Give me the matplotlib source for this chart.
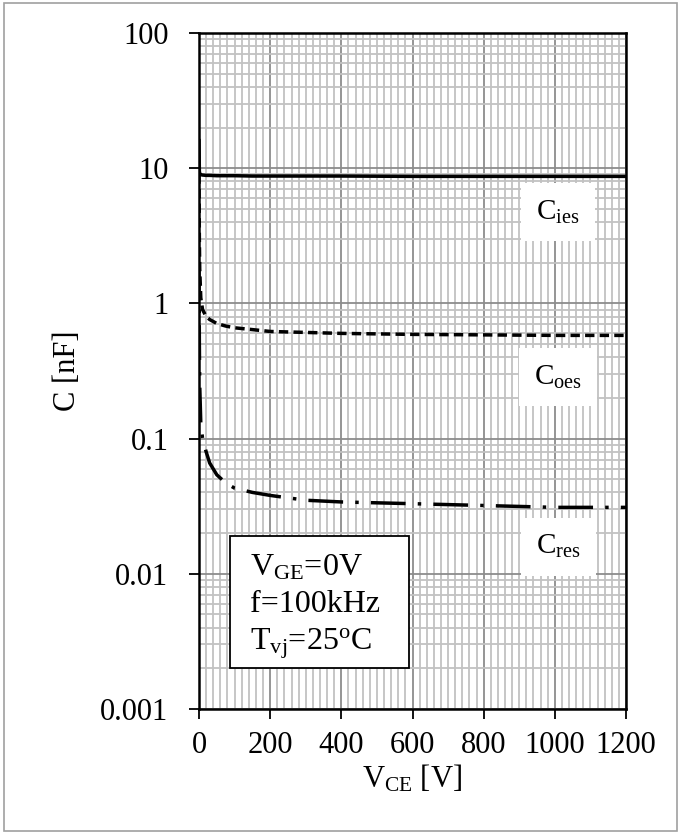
import matplotlib
matplotlib.use("Agg")
import matplotlib.pyplot as plt
from matplotlib.patches import Rectangle
from matplotlib.ticker import FixedLocator, NullFormatter

plt.rcParams['font.family'] = ['Liberation Serif', 'DejaVu Serif']
plt.rcParams['mathtext.fontset'] = 'custom'
plt.rcParams['mathtext.rm'] = 'Liberation Serif'
plt.rcParams['mathtext.it'] = 'Liberation Serif:italic'

# Collector-emitter voltage [V]
v_ce = [0, 1, 2, 5, 10, 20, 30, 50, 75, 100, 150, 200, 300, 400, 600, 800, 1000, 1200]
# Capacitances [nF]
c_ies = [16.0, 9.5, 9.1, 8.95, 8.9, 8.85, 8.85, 8.8, 8.8, 8.8, 8.75, 8.75, 8.75,
         8.75, 8.7, 8.7, 8.7, 8.7]
c_oes = [9.0, 3.0, 1.8, 1.1, 0.9, 0.8, 0.76, 0.71, 0.68, 0.66, 0.64, 0.62, 0.61,
         0.60, 0.59, 0.585, 0.58, 0.58]
c_res = [2.0, 0.5, 0.25, 0.13, 0.1, 0.08, 0.066, 0.054, 0.047, 0.043, 0.040, 0.038,
         0.035, 0.034, 0.033, 0.032, 0.031, 0.031]

x_ticks = [0, 200, 400, 600, 800, 1000, 1200]
y_ticks = [0.001, 0.01, 0.1, 1, 10, 100]
y_labels = ['0.001', '0.01', '0.1', '1', '10', '100']

fig = plt.figure(figsize=(6.81, 8.34), dpi=100)
ax = fig.add_axes([199/681, 1-709/834, 427/681, 676/834])

ax.set_yscale('log')
ax.set_xlim(0, 1200)
ax.set_ylim(0.001, 100)

# grid: light minor lines, darker major lines
minor_x = [v for v in range(0, 1201, 20) if v % 200 != 0]
minor_y = [m * 10.0**e for e in range(-3, 2) for m in range(2, 10)]
ax.xaxis.set_minor_locator(FixedLocator(minor_x))
ax.yaxis.set_minor_locator(FixedLocator(minor_y))
ax.xaxis.set_minor_formatter(NullFormatter())
ax.yaxis.set_minor_formatter(NullFormatter())
ax.grid(which='minor', color='#c2c2c2', linewidth=1.3)
ax.grid(which='major', color='#8c8c8c', linewidth=1.3)
ax.set_axisbelow(True)

ax.set_xticks(x_ticks)
ax.set_xticklabels([str(t) for t in x_ticks])
ax.set_yticks(y_ticks)
ax.set_yticklabels(y_labels)
ax.tick_params(which='major', direction='out', length=7, width=1.3,
               labelsize=22, color='black')
ax.tick_params(axis='x', which='major', pad=9)
ax.tick_params(axis='y', which='major', pad=15)
ax.tick_params(which='minor', length=0)
for s in ax.spines.values():
    s.set_linewidth(1.8)
    s.set_color('black')

ax.plot(v_ce, c_ies, color='black', linewidth=2.5, linestyle='-')
ax.plot(v_ce, c_oes, color='black', linewidth=2.5, linestyle=(0, (2.7, 1.5)))
ax.plot(v_ce, c_res, color='black', linewidth=2.5, linestyle=(0, (10, 3.5, 1, 3.5)))

ax.set_xlabel(r'V$_{\mathrm{CE}}$ [V]', fontsize=22, labelpad=2)
ax.set_ylabel('C [nF]', fontsize=22, labelpad=13)

# curve labels on white patches
for txt, yf in [(r'C$_{\mathrm{ies}}$', 0.735),
                (r'C$_{\mathrm{oes}}$', 0.491),
                (r'C$_{\mathrm{res}}$', 0.240)]:
    ax.text(0.841, yf, txt, transform=ax.transAxes, fontsize=21,
            ha='center', va='center',
            bbox=dict(facecolor='white', edgecolor='none', pad=11))

# conditions box
ax.add_patch(Rectangle((0.0726, 0.0607), 0.492 - 0.0726, 0.256 - 0.0607,
                       transform=ax.transAxes, facecolor='white',
                       edgecolor='black', linewidth=1.3, zorder=3))
for txt, yf in [(r'V$_{\mathrm{GE}}$=0V', 0.198),
                ('f=100kHz', 0.1435),
                (r'T$_{\mathrm{vj}}$=25$^{\mathrm{o}}$C', 0.0873)]:
    ax.text(0.119, yf, txt, transform=ax.transAxes, fontsize=23,
            ha='left', va='baseline', zorder=4)

# outer frame
fig.patches.append(Rectangle((4/681, 3/834), 673/681, 828/834,
                             transform=fig.transFigure, fill=False,
                             edgecolor='#a0a0a0', linewidth=1.2))

fig.savefig('out.png', dpi=100)
